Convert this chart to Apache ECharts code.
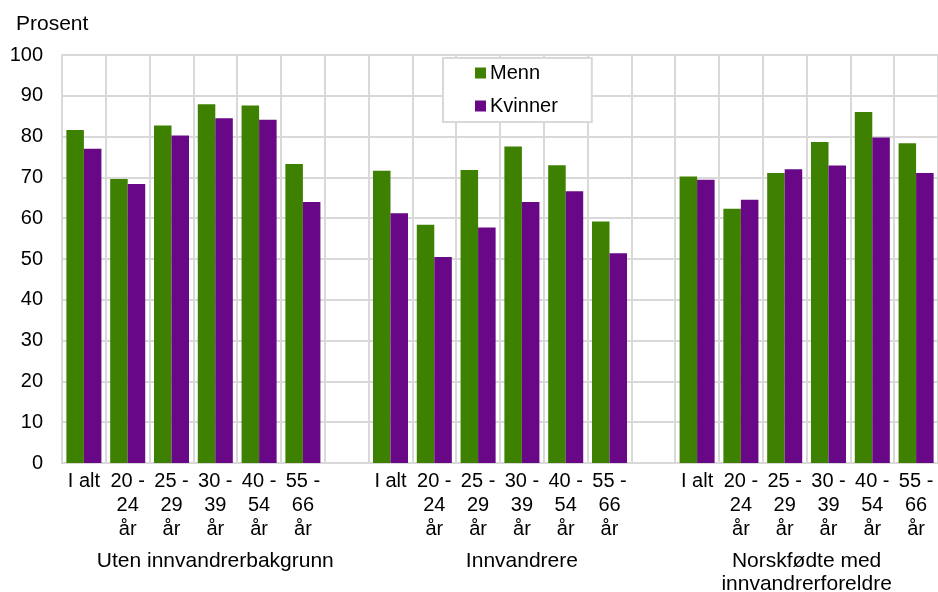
<!DOCTYPE html>
<html>
<head>
<meta charset="utf-8">
<script src="https://cdn.jsdelivr.net/npm/echarts@6/dist/echarts.min.js"></script>
<style>
  html, body { margin: 0; padding: 0; background: #fff; }
  #chart { width: 938px; height: 592px; }
</style>
</head>
<body>
<div id="chart"></div>
<script>
// aldersgrupper og hovedgrupper
const ageGroups = ['I alt', '20 -\n24\når', '25 -\n29\når', '30 -\n39\når', '40 -\n54\når', '55 -\n66\når']
const groupNames = ['Uten innvandrerbakgrunn', 'Innvandrere', 'Norskfødte med\ninnvandrerforeldre']
const seriesNames = ['Menn', 'Kvinner']

// prosent, en liste per gruppe
const mennUten = [81.6, 69.6, 82.7, 87.9, 87.6, 73.3]
const kvinnerUten = [77.0, 68.4, 80.3, 84.5, 84.1, 64.0]
const mennInnv = [71.6, 58.4, 71.8, 77.6, 73.0, 59.2]
const kvinnerInnv = [61.2, 50.5, 57.7, 64.0, 66.6, 51.4]
const mennNorsk = [70.2, 62.3, 71.1, 78.7, 86.0, 78.4]
const kvinnerNorsk = [69.4, 64.5, 72.0, 72.9, 79.8, 71.1]

const yTicks = [0, 10, 20, 30, 40, 50, 60, 70, 80, 90, 100]

const fontFamily = "'Liberation Sans', Arial, sans-serif"

// bygg kategorier med tomme plasser mellom gruppene
const categories = []
const menn = []
const kvinner = []
const groupCenters = {}
const mennGroups = [mennUten, mennInnv, mennNorsk]
const kvinnerGroups = [kvinnerUten, kvinnerInnv, kvinnerNorsk]
groupNames.forEach((name, g) => {
  const start = categories.length
  ageGroups.forEach((age, i) => {
    categories.push(age)
    menn.push(mennGroups[g][i])
    kvinner.push(kvinnerGroups[g][i])
  })
  if (g < groupNames.length - 1) {
    categories.push('')
    menn.push(null)
    kvinner.push(null)
  }
  groupCenters[(start + categories.length) / 2] = name
})

const chart = echarts.init(document.getElementById('chart'))
const option = {
  animation: false,
  textStyle: { fontFamily: fontFamily },
  title: {
    text: 'Prosent',
    left: 11,
    top: 9,
    textStyle: { fontSize: 21, fontWeight: 'normal', color: '#000', fontFamily: fontFamily }
  },
  legend: {
    data: seriesNames,
    orient: 'vertical',
    left: 443,
    top: 58,
    icon: 'rect',
    itemWidth: 11,
    itemHeight: 11,
    itemGap: 13,
    itemStyle: { borderWidth: 0 },
    padding: [5, 34, 6, 32],
    backgroundColor: '#fff',
    borderColor: '#d9d9d9',
    borderWidth: 2,
    textStyle: { fontSize: 20, color: '#000', fontFamily: fontFamily, padding: [0, 0, 0, -1] }
  },
  grid: {
    left: 62,
    right: 0,
    top: 55,
    bottom: 129,
    containLabel: false,
    outerBoundsMode: 'none'
  },
  xAxis: [
    {
      type: 'category',
      data: categories,
      boundaryGap: true,
      axisLine: { show: true, lineStyle: { color: '#d9d9d9', width: 2 } },
      axisTick: { show: false },
      splitLine: { show: true, lineStyle: { color: '#d9d9d9', width: 2 } },
      axisLabel: {
        interval: 0,
        margin: 6,
        fontSize: 20,
        lineHeight: 24,
        color: '#000',
        fontFamily: fontFamily
      }
    },
    {
      type: 'value',
      position: 'bottom',
      offset: 80,
      min: 0,
      max: categories.length,
      interval: 0.5,
      axisLine: { show: false },
      axisTick: { show: false },
      splitLine: { show: false },
      axisLabel: {
        margin: 7,
        fontSize: 21,
        lineHeight: 23,
        color: '#000',
        fontFamily: fontFamily,
        showMinLabel: true,
        showMaxLabel: true,
        formatter: v => groupCenters[v] || ''
      }
    }
  ],
  yAxis: {
    type: 'value',
    min: yTicks[0],
    max: yTicks[yTicks.length - 1],
    interval: 10,
    axisLine: { show: true, lineStyle: { color: '#d9d9d9', width: 2 } },
    axisTick: { show: false },
    splitLine: { show: true, lineStyle: { color: '#d9d9d9', width: 2 } },
    axisLabel: {
      margin: 19,
      fontSize: 20,
      color: '#000',
      fontFamily: fontFamily
    }
  },
  series: [
    {
      name: seriesNames[0],
      type: 'bar',
      xAxisIndex: 0,
      data: menn,
      barGap: '0%',
      barCategoryGap: '20%',
      itemStyle: { color: '#3e8000' }
    },
    {
      name: seriesNames[1],
      type: 'bar',
      xAxisIndex: 0,
      data: kvinner,
      barGap: '0%',
      barCategoryGap: '20%',
      itemStyle: { color: '#690887' }
    }
  ]
}
chart.setOption(option)
</script>
</body>
</html>
